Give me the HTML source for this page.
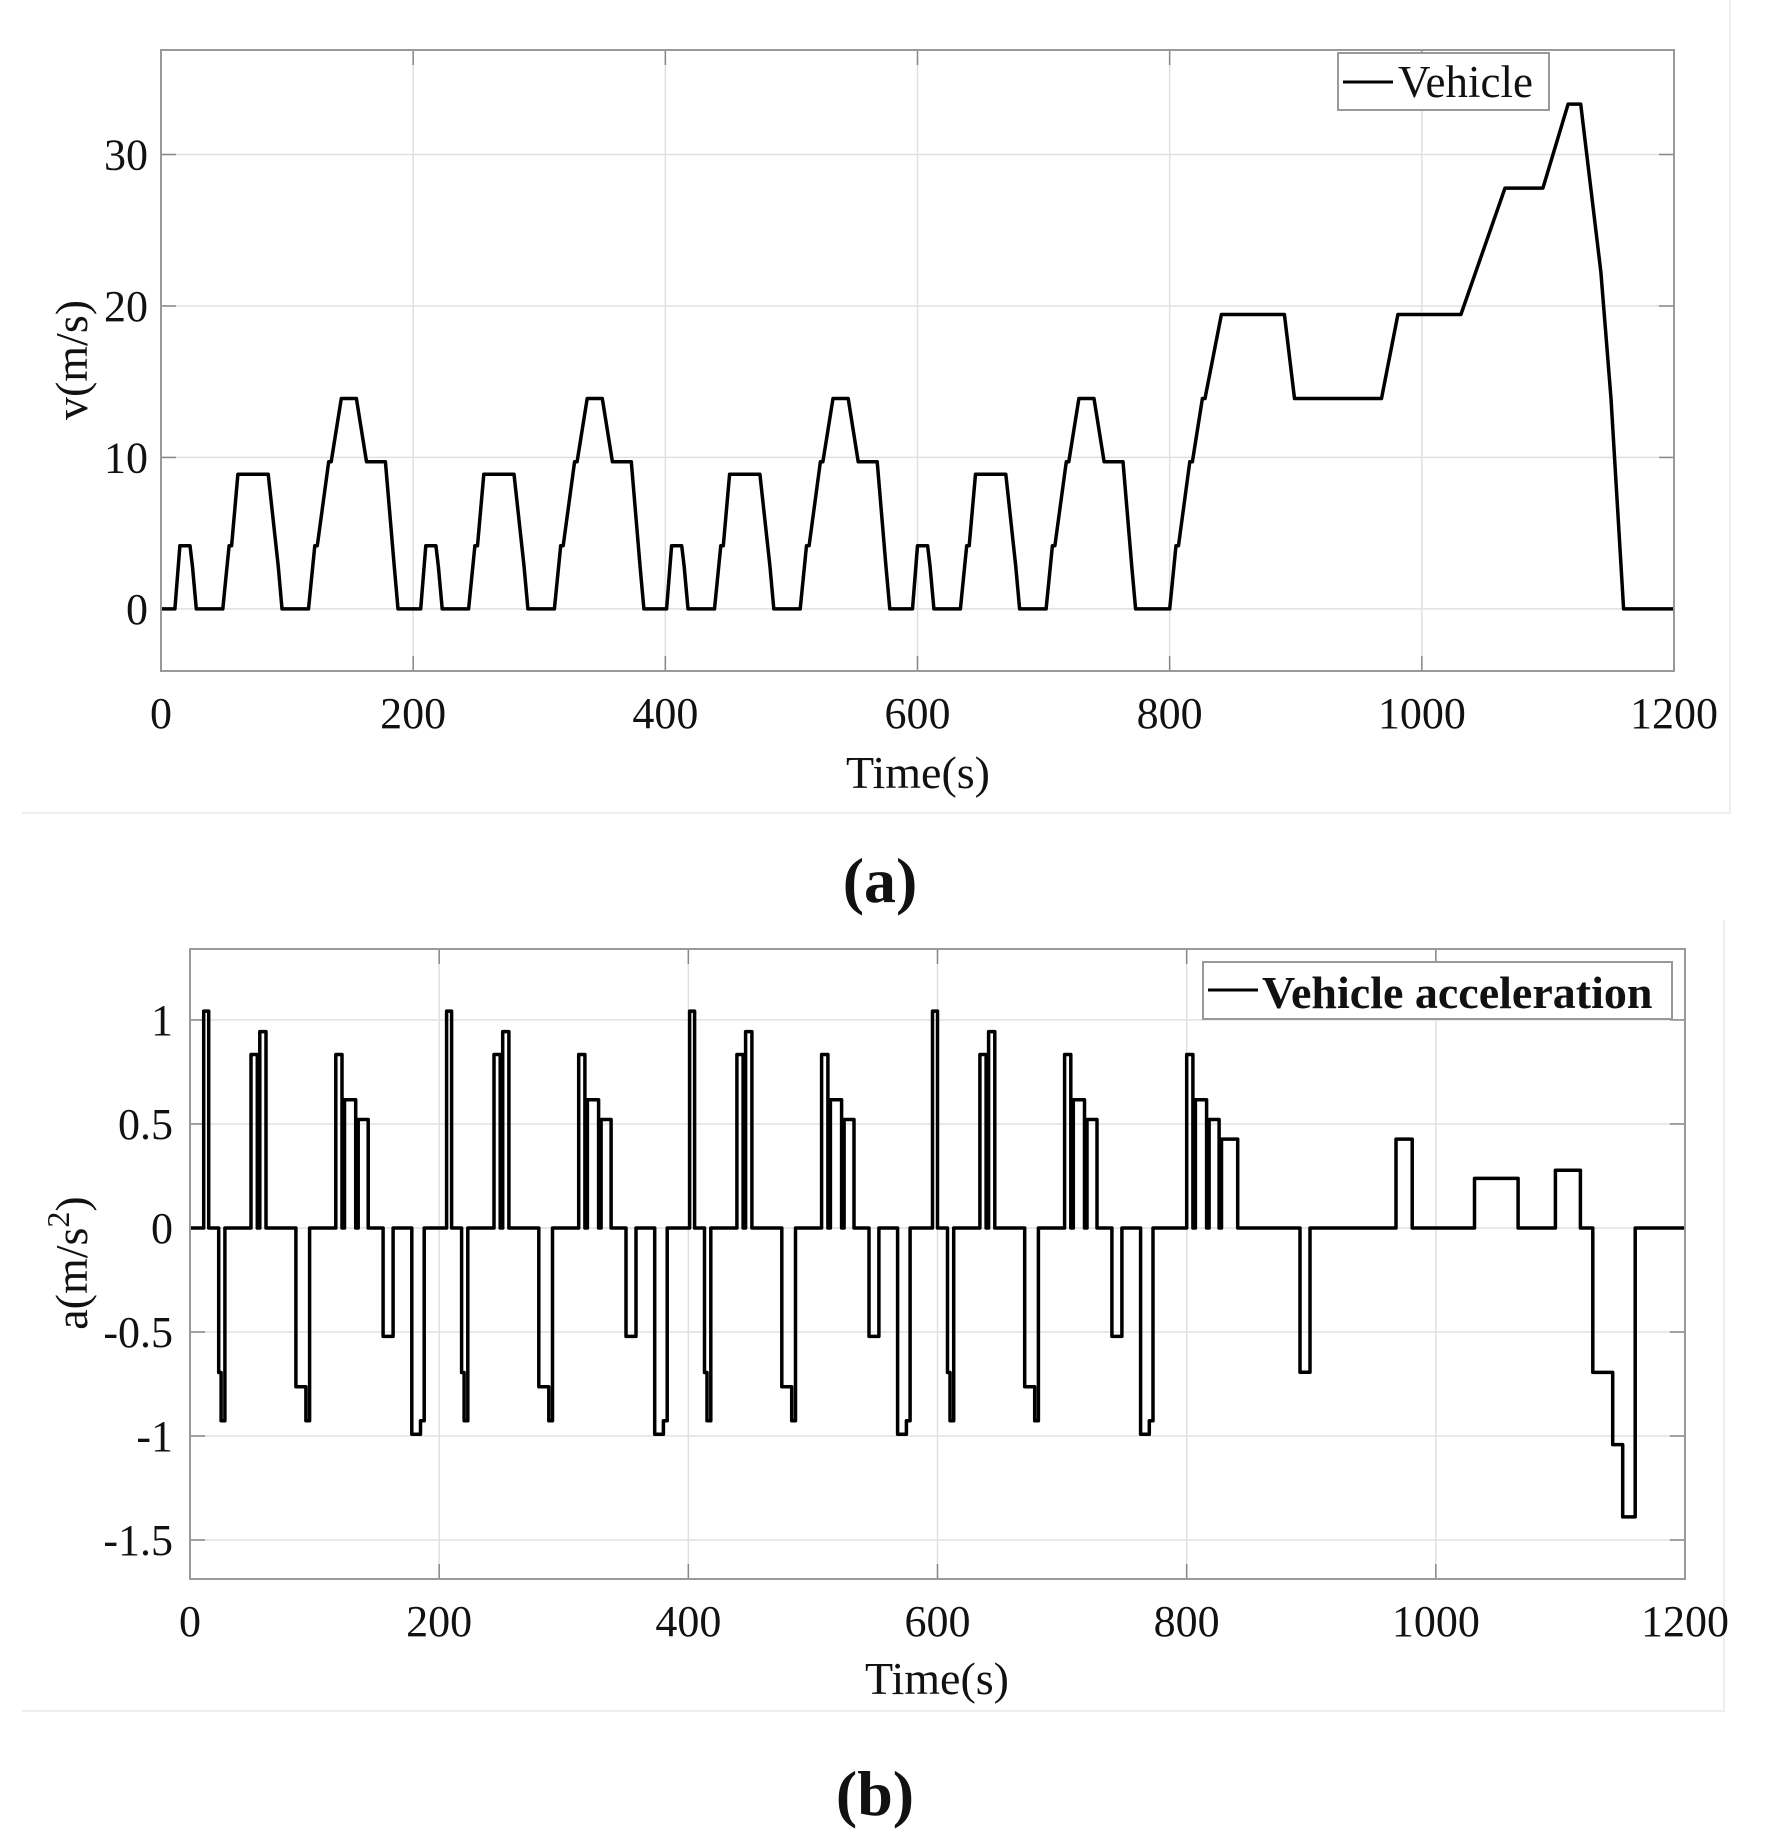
<!DOCTYPE html>
<html><head><meta charset="utf-8"><style>
html,body{margin:0;padding:0;background:#fff;}
svg{display:block;}
text{font-family:"Liberation Serif",serif;fill:#111;}
</style></head><body>
<svg id="s" width="1782" height="1840" viewBox="0 0 1782 1840" xmlns="http://www.w3.org/2000/svg">
<rect width="1782" height="1840" fill="#fff"/>
<g id="g"></g>
</svg>
<script>
const NS="http://www.w3.org/2000/svg";
const g=document.getElementById('g');
function el(n,a,t){const e=document.createElementNS(NS,n);for(const k in a)e.setAttribute(k,a[k]);if(t!==undefined)e.textContent=t;g.appendChild(e);return e;}
const ece=[[0,0],[11,0],[15,4.17],[23,4.17],[25,2.78],[28,0],[49,0],[54,4.17],[56,4.17],[61,8.89],[85,8.89],[93,2.78],[96,0],[117,0],[122,4.17],[124,4.17],[133,9.72],[135,9.72],[143,13.89],[155,13.89],[163,9.72],[178,9.72],[185,2.78],[188,0]];
const eudc=[[0,0],[20,0],[25,4.17],[27,4.17],[36,9.72],[38,9.72],[46,13.89],[48,13.89],[61,19.44],[111,19.44],[119,13.89],[188,13.89],[201,19.44],[251,19.44],[286,27.78],[316,27.78],[336,33.33],[346,33.33],[362,22.22],[370,13.89],[380,0],[420,0]];
let pts=[];
for(let c=0;c<4;c++)for(const p of ece)pts.push([p[0]+195*c,p[1]]);
for(const p of eudc)pts.push([p[0]+780,p[1]]);
pts=pts.filter((p,i)=>i==0||p[0]!==pts[i-1][0]);

el('path',{d:'M22 813 H1730 V0',fill:'none',stroke:'#eee','stroke-width':2});
el('path',{d:'M22 1711 H1724 V920',fill:'none',stroke:'#eee','stroke-width':2});

function axes(o){
  const X=t=>o.x0+(t/1200)*(o.x1-o.x0);
  const Y=v=>o.y0-(v-o.vmin)/(o.vmax-o.vmin)*(o.y0-o.y1);
  for(let t=200;t<1200;t+=200)el('line',{x1:X(t),x2:X(t),y1:o.y1,y2:o.y0,stroke:'#e0e0e0','stroke-width':1.5});
  for(const v of o.yt)el('line',{x1:o.x0,x2:o.x1,y1:Y(v),y2:Y(v),stroke:'#e0e0e0','stroke-width':1.5});
  for(let t=0;t<=1200;t+=200){el('line',{x1:X(t),x2:X(t),y1:o.y0,y2:o.y0-15,stroke:'#888','stroke-width':1.5});el('line',{x1:X(t),x2:X(t),y1:o.y1,y2:o.y1+15,stroke:'#888','stroke-width':1.5});
    el('text',{x:X(t),y:o.xb,'font-size':44,'text-anchor':'middle'},String(t));}
  for(const v of o.yt){el('line',{x1:o.x0,x2:o.x0+15,y1:Y(v),y2:Y(v),stroke:'#888','stroke-width':1.5});el('line',{x1:o.x1,x2:o.x1-15,y1:Y(v),y2:Y(v),stroke:'#888','stroke-width':1.5});
    el('text',{x:o.lx,y:Y(v)+15,'font-size':44,'text-anchor':'end'},o.fmt(v));}
  return [X,Y];
}
let A={x0:161,x1:1674,y0:671,y1:50,vmin:-4.1,vmax:36.9,yt:[0,10,20,30],xb:728,lx:148,fmt:v=>String(v)};
let [X,Y]=axes(A);
let d=pts.map((p,i)=>(i?'L':'M')+X(p[0]).toFixed(1)+' '+Y(p[1]).toFixed(1)).join(' ');
el('path',{d:d,fill:'none',stroke:'#000','stroke-width':3.5,'stroke-linejoin':'round'});
el('rect',{x:161,y:50,width:1513,height:621,fill:'none',stroke:'#999','stroke-width':2});
el('rect',{x:1338,y:53,width:211,height:57,fill:'#fff',stroke:'#999','stroke-width':2});
el('line',{x1:1343,x2:1393,y1:82,y2:82,stroke:'#000','stroke-width':3});
el('text',{x:1398,y:97,'font-size':45},'Vehicle');
el('text',{x:918,y:788,'font-size':46,'text-anchor':'middle'},'Time(s)');
el('text',{x:0,y:0,'font-size':46,'text-anchor':'middle',transform:'translate(87,360) rotate(-90)'},'v(m/s)');
el('text',{x:880,y:902,'font-size':64,'text-anchor':'middle','font-weight':'bold'},'(a)');

let B={x0:190,x1:1685,y0:1579,y1:949,vmin:-1.6875,vmax:1.341,yt:[1,0.5,0,-0.5,-1,-1.5],xb:1636,lx:173,fmt:v=>String(v)};
[X,Y]=axes(B);
let ap=[];
for(let i=0;i<pts.length-1;i++){const a=(pts[i+1][1]-pts[i][1])/(pts[i+1][0]-pts[i][0]);ap.push([pts[i][0],a],[pts[i+1][0],a]);}
ap.push([1200,0]);
d=ap.map((p,i)=>(i?'L':'M')+X(p[0]).toFixed(1)+' '+Y(p[1]).toFixed(1)).join(' ');
el('path',{d:d,fill:'none',stroke:'#000','stroke-width':3.5,'stroke-linejoin':'round'});
el('rect',{x:190,y:949,width:1495,height:630,fill:'none',stroke:'#999','stroke-width':2});
el('rect',{x:1203,y:962,width:469,height:57,fill:'#fff',stroke:'#999','stroke-width':2});
el('line',{x1:1208,x2:1258,y1:990,y2:990,stroke:'#000','stroke-width':3});
el('text',{x:1262,y:1008,'font-size':46,'font-weight':'bold'},'Vehicle acceleration');
el('text',{x:937,y:1694,'font-size':46,'text-anchor':'middle'},'Time(s)');
const yl=el('text',{x:0,y:0,'font-size':46,'text-anchor':'middle',transform:'translate(87,1263) rotate(-90)'});
yl.appendChild(document.createTextNode('a(m/s'));
const sp=document.createElementNS(NS,'tspan');sp.setAttribute('dy','-18');sp.setAttribute('font-size','32');sp.textContent='2';yl.appendChild(sp);
const sp2=document.createElementNS(NS,'tspan');sp2.setAttribute('dy','18');sp2.textContent=')';yl.appendChild(sp2);
el('text',{x:875,y:1815,'font-size':64,'text-anchor':'middle','font-weight':'bold'},'(b)');
</script>
</body></html>
